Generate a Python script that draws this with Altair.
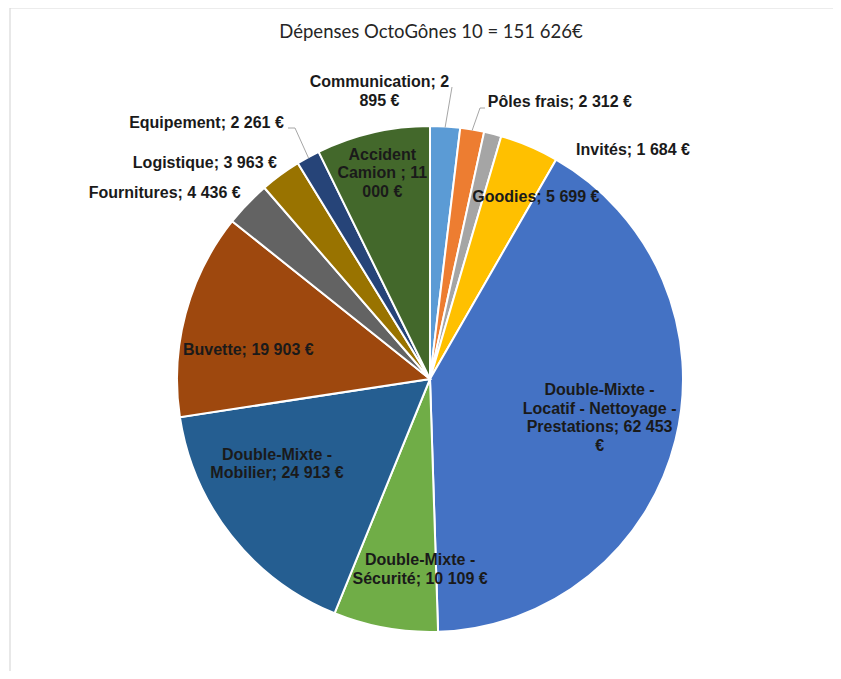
import math
import altair as alt
import pandas as pd

# ---- data -------------------------------------------------------------
categories = [
    "Communication", "Pôles frais", "Invités", "Goodies",
    "Double-Mixte - Locatif - Nettoyage - Prestations",
    "Double-Mixte - Sécurité", "Double-Mixte - Mobilier", "Buvette",
    "Fournitures", "Logistique", "Equipement", "Accident Camion",
]
values = [2895, 2312, 1684, 5699, 62453, 10109, 24913, 19903, 4436, 3963, 2261, 11000]
labels = [
    "Communication; 2\n895 €",
    "Pôles frais; 2 312 €",
    "Invités; 1 684 €",
    "Goodies; 5 699 €",
    "Double-Mixte -\nLocatif - Nettoyage -\nPrestations; 62 453\n€",
    "Double-Mixte -\nSécurité; 10 109 €",
    "Double-Mixte -\nMobilier; 24 913 €",
    "Buvette; 19 903 €",
    "Fournitures; 4 436 €",
    "Logistique; 3 963 €",
    "Equipement; 2 261 €",
    "Accident\nCamion ; 11\n000 €",
]
colors = ["#5B9BD5", "#ED7D31", "#A5A5A5", "#FFC000", "#4472C4", "#70AD47",
          "#255E91", "#9E480E", "#636363", "#997300", "#264478", "#43682B"]
title_text = "Dépenses OctoGônes 10 = 151 626€"

# ---- layout (label placement, not data) --------------------------------
W, H = 825, 663
CX, CY, R = 422, 371, 253
LH = 18.5
label_r = [292, 306, 306, 211, 174, 191, 175, 184, 324, 312, 340, 211]
label_shift = [-13.4, 15.5, 27.2, 7, -1.1, -7.2, 9.2, -5.9, -8.8, -10, -12.3, 0]
# label-side points of leader lines (view pixels), keyed by slice index
leader_pts = {0: [(444, 79)], 1: [(477, 100), (472, 100)], 10: [(280, 120), (287, 120)]}

total = sum(values)
cum = 0
mids = []
for v in values:
    mids.append((cum + v / 2) / total * 360)
    cum += v

df = pd.DataFrame({"cat": categories, "value": values, "idx": range(len(values))})

lab_rows = []
for i, (t, m) in enumerate(zip(labels, mids)):
    a = math.radians(m + label_shift[i])
    n = t.count("\n")
    lab_rows.append({"text": t, "lx": CX + label_r[i] * math.sin(a),
                     "ly": CY - label_r[i] * math.cos(a) - n * LH / 2})
lab_df = pd.DataFrame(lab_rows)

lead_rows = []
for i, pts in leader_pts.items():
    a = math.radians(mids[i])
    seq = list(pts) + [(CX + (R - 1) * math.sin(a), CY - (R - 1) * math.cos(a))]
    for k, (x, y) in enumerate(seq):
        lead_rows.append({"id": i, "o": k, "x": x, "y": y})
lead_df = pd.DataFrame(lead_rows)

pie = alt.Chart(df).mark_arc(radius=R, stroke="white", strokeWidth=2).encode(
    theta=alt.Theta("value:Q", stack=True),
    color=alt.Color("cat:N", scale=alt.Scale(domain=categories, range=colors), legend=None),
    order=alt.Order("idx:Q"),
    x=alt.value(CX),
    y=alt.value(CY),
)

leaders = alt.Chart(lead_df).mark_line(color="#A6A6A6", strokeWidth=1).encode(
    x=alt.X("x:Q", scale=None),
    y=alt.Y("y:Q", scale=None),
    detail="id:N",
    order="o:Q",
)

text = alt.Chart(lab_df).mark_text(
    font="Liberation Sans", fontWeight="bold", fontSize=16, color="#1A1A1A",
    lineBreak="\n", lineHeight=LH, align="center", baseline="middle",
).encode(
    x=alt.X("lx:Q", scale=None),
    y=alt.Y("ly:Q", scale=None),
    text="text:N",
)

title = alt.Chart(pd.DataFrame({"t": [title_text]})).mark_text(
    font="Lato", fontSize=18.5, color="#262626", align="center", baseline="middle",
).encode(x=alt.value(423), y=alt.value(24), text="t:N")

frame = alt.Chart(pd.DataFrame({"a": [0]})).mark_rule(color="#D9D9D9", strokeWidth=1.2)
frame_top = frame.encode(x=alt.value(2), x2=alt.value(W), y=alt.value(0))
frame_left = frame.encode(x=alt.value(2), y=alt.value(0), y2=alt.value(H))

chart = alt.layer(frame_top, frame_left, pie, leaders, text, title).properties(
    width=W, height=H, padding=0, autosize=alt.AutoSizeParams(type="none"),
).configure_view(stroke=None)

chart.save("out.html", embed_options={"renderer": "svg", "actions": False})
